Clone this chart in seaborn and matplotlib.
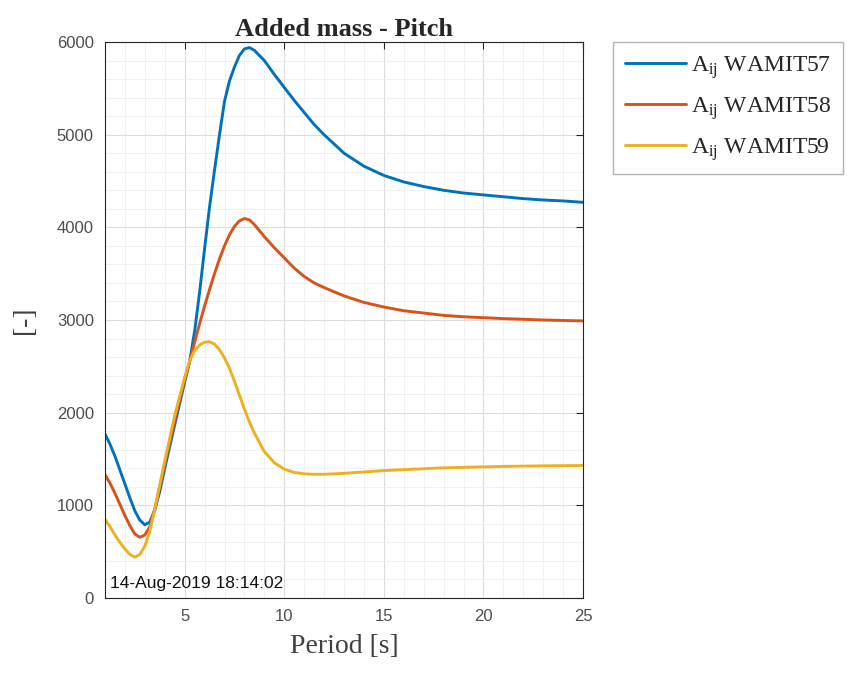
import matplotlib
matplotlib.use("Agg")
import matplotlib.pyplot as plt
import seaborn as sns
import pandas as pd
from matplotlib.ticker import MultipleLocator

# ---- data ----
period = [1, 1.25, 1.5, 1.75, 2, 2.25, 2.5, 2.75, 3, 3.25, 3.5, 3.75, 4, 4.5, 5, 5.25, 5.5,
          5.75, 6, 6.25, 6.5, 6.75, 7, 7.25, 7.5, 7.75, 8, 8.25, 8.5, 9, 9.5, 10, 10.5, 11,
          11.5, 12, 13, 14, 15, 16, 17, 18, 19, 20, 21, 22, 23, 24, 25]
wamit57 = [1770, 1660, 1530, 1380, 1230, 1080, 940, 840, 790, 820, 950, 1150, 1400, 1870,
           2330, 2550, 2880, 3300, 3770, 4220, 4620, 5000, 5360, 5580, 5730, 5855, 5925, 5940,
           5910, 5800, 5650, 5510, 5370, 5240, 5110, 5000, 4800, 4660, 4560, 4490, 4440, 4400,
           4370, 4350, 4330, 4310, 4295, 4285, 4270]
wamit58 = [1330, 1240, 1130, 1010, 890, 780, 690, 655, 680, 770, 960, 1200, 1450, 1920, 2360,
           2550, 2760, 2960, 3150, 3330, 3500, 3660, 3800, 3920, 4010, 4070, 4095, 4080, 4030,
           3900, 3780, 3670, 3560, 3470, 3400, 3350, 3260, 3190, 3140, 3100, 3075, 3050, 3035,
           3025, 3015, 3008, 3000, 2995, 2990]
wamit59 = [850, 770, 680, 600, 530, 470, 440, 470, 560, 720, 960, 1220, 1480, 1970, 2380, 2560,
           2670, 2730, 2760, 2765, 2740, 2680, 2590, 2480, 2340, 2190, 2040, 1900, 1780, 1580,
           1460, 1390, 1355, 1340, 1335, 1335, 1345, 1360, 1375, 1385, 1395, 1405, 1410, 1415,
           1420, 1423, 1426, 1428, 1430]
labels = [r"A$_{\mathrm{ij}}$ WAMIT57", r"A$_{\mathrm{ij}}$ WAMIT58", r"A$_{\mathrm{ij}}$ WAMIT59"]
colors = ["#0072BD", "#D95319", "#EDB120"]

frames = []
for lab, vals in zip(labels, [wamit57, wamit58, wamit59]):
    frames.append(pd.DataFrame({"Period": period, "A": vals, "series": lab}))
df = pd.concat(frames, ignore_index=True)

sns.set_style("white")
plt.rcParams["font.family"] = ["Liberation Sans", "DejaVu Sans"]
plt.rcParams["mathtext.fontset"] = "custom"
plt.rcParams["mathtext.rm"] = "Liberation Serif"
plt.rcParams["mathtext.it"] = "Liberation Serif:italic"
plt.rcParams["mathtext.bf"] = "Liberation Serif:bold"

fig = plt.figure(figsize=(8.47, 6.73), dpi=100)
ax = fig.add_axes([105 / 847, 1 - 598 / 673, (583 - 105) / 847, (598 - 42) / 673])

sns.lineplot(data=df, x="Period", y="A", hue="series", palette=colors, linewidth=2.1,
             ax=ax, legend=True, sort=False)

ax.set_xlim(1, 25)
ax.set_ylim(0, 6000)
ax.xaxis.set_major_locator(MultipleLocator(5))
ax.yaxis.set_major_locator(MultipleLocator(1000))
ax.xaxis.set_minor_locator(MultipleLocator(1))
ax.yaxis.set_minor_locator(MultipleLocator(200))
ax.grid(which="major", color="#dcdcdc", linewidth=0.8)
ax.grid(which="minor", color="#efefef", linewidth=0.6)
ax.set_axisbelow(True)
ax.tick_params(which="major", direction="in", length=5, top=True, right=True,
               labelsize=12, colors="#262626", labelcolor="#4d4d4d", pad=8)
ax.tick_params(which="minor", length=0)
for s in ax.spines.values():
    s.set_color("#262626")
    s.set_linewidth(0.8)

serif = ["Liberation Serif", "DejaVu Serif"]
ax.set_title("Added mass - Pitch", fontsize=19, fontweight="bold", family=serif, pad=4)
ax.set_xlabel("Period [s]", fontsize=20, family=serif, color="#404040", labelpad=7)
ax.set_ylabel("[-]", fontsize=20, family=serif, color="#404040", labelpad=14)

ax.text(0.01, 0.012, "14-Aug-2019 18:14:02", transform=ax.transAxes, fontsize=12.5,
        color="#111111", ha="left", va="bottom")

sns.move_legend(ax, "upper left", bbox_to_anchor=((613 - 105) / (583 - 105), 1.0),
                title=None, frameon=True, fancybox=False, fontsize=17,
                handlelength=2.6, handletextpad=0.2, labelspacing=0.6,
                borderaxespad=0, borderpad=0.5)
leg = ax.get_legend()
leg.get_frame().set_edgecolor("#a0a0a0")
leg.get_frame().set_linewidth(1.0)
for t in leg.get_texts():
    t.set_family(serif)
    t.set_color("#262626")
for h in leg.get_lines():
    h.set_linewidth(2.1)

fig.savefig("out.png", dpi=100)
